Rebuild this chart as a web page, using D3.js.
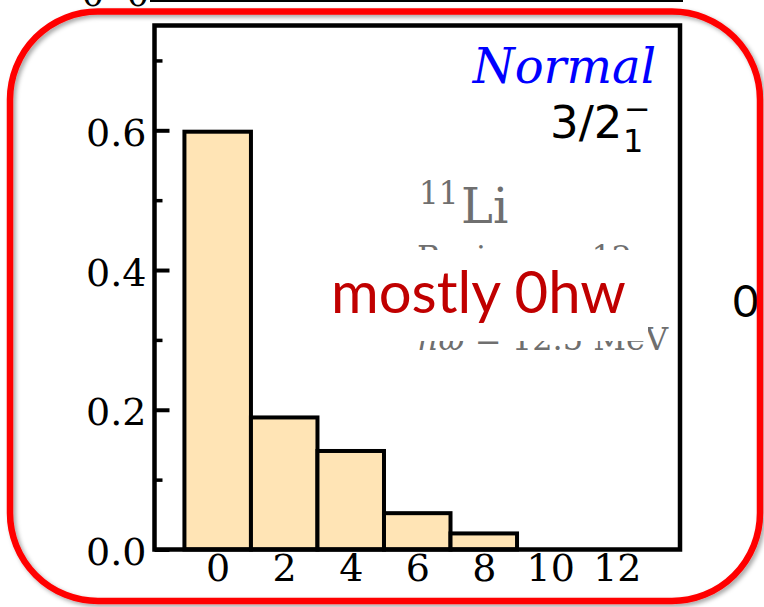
<!DOCTYPE html>
<html>
<head>
<meta charset="utf-8">
<script src="https://cdn.jsdelivr.net/npm/d3@7"></script>
<style>
  html, body { margin: 0; padding: 0; background: #fff; }
  svg { display: block; }
</style>
</head>
<body>
<svg width="764" height="607"></svg>
<script>
// values
const nhw = [0, 2, 4, 6, 8, 10, 12]
const probability = [0.598, 0.189, 0.141, 0.052, 0.023, 0, 0]
const yMajorTicks = [0, 0.2, 0.4, 0.6]
const yMinorTicks = [0.1, 0.3, 0.5, 0.7]
const xTickLabels = ['0', '2', '4', '6', '8', '10', '12']

const svg = d3.select('svg')
const serif = 'DejaVu Serif'
const grey = '#6f6f6f'

// plot box (window.top is taken, so no bare `top`)
const plotLeft = 154.5
const plotRight = 680
const plotTop = 25.5
const plotBottom = 549.5

const x = d3.scaleLinear().domain([-1.9, 13.9]).range([plotLeft, plotRight])
const y = d3.scaleLinear().domain([0, 0.75]).range([plotBottom, plotTop])

// soft shadow for the slide frame
const defs = svg.append('defs')
const shadow = defs.append('filter').attr('id', 'shadow')
  .attr('x', '-5%').attr('y', '-5%').attr('width', '110%').attr('height', '110%')
shadow.append('feDropShadow')
  .attr('dx', 2.5).attr('dy', 2.5).attr('stdDeviation', 2)
  .attr('flood-color', '#000').attr('flood-opacity', 0.35)

// bits of the neighbouring panels that stick into the crop
svg.append('line')
  .attr('x1', 150).attr('x2', 683).attr('y1', 0.5).attr('y2', 0.5)
  .attr('stroke', '#000').attr('stroke-width', 3)
svg.selectAll('text.cut')
  .data([93, 138])
  .join('text')
  .attr('class', 'cut')
  .attr('x', (d) => d)
  .attr('y', 6)
  .attr('text-anchor', 'middle')
  .attr('font-family', serif)
  .attr('font-size', 36)
  .text('0')
svg.append('text')
  .attr('x', 733).attr('y', 317)
  .attr('font-family', 'Lato')
  .attr('font-size', 44)
  .text('0')

// histogram bars, each two units wide and centred on N
svg.append('g')
  .selectAll('rect')
  .data(nhw.map((n, i) => ({ n, p: probability[i] })).filter((d) => d.p > 0))
  .join('rect')
  .attr('x', (d) => x(d.n - 1))
  .attr('width', (d) => x(d.n + 1) - x(d.n - 1))
  .attr('y', (d) => y(d.p))
  .attr('height', (d) => y(0) - y(d.p))
  .attr('fill', '#ffe4b5')
  .attr('stroke', '#000')
  .attr('stroke-width', 4)

// y axis, ticks pointing inwards
const yAxis = svg.append('g')
  .attr('transform', `translate(${plotLeft},0)`)
  .call(d3.axisLeft(y)
    .tickValues(yMajorTicks)
    .tickFormat(d3.format('.1f'))
    .tickSizeInner(-15)
    .tickSizeOuter(0)
    .tickPadding(8))
yAxis.select('.domain').remove()
yAxis.attr('font-family', serif).attr('font-size', 38)
yAxis.selectAll('line').attr('stroke-width', 4)
yAxis.selectAll('text').attr('dy', '0.4em').attr('fill', '#000')

const yMinor = svg.append('g')
  .attr('transform', `translate(${plotLeft},0)`)
  .call(d3.axisLeft(y).tickValues(yMinorTicks).tickFormat('').tickSize(-8))
yMinor.select('.domain').remove()
yMinor.selectAll('line').attr('stroke-width', 3.5)

// x axis, labels only
const xAxis = svg.append('g')
  .attr('transform', `translate(0,${plotBottom})`)
  .call(d3.axisBottom(x)
    .tickValues(nhw)
    .tickFormat((d, i) => xTickLabels[i])
    .tickSize(0)
    .tickPadding(5))
xAxis.select('.domain').remove()
xAxis.attr('font-family', serif).attr('font-size', 38)
xAxis.selectAll('text').attr('fill', '#000')

// plot frame
svg.append('rect')
  .attr('x', plotLeft).attr('y', plotTop)
  .attr('width', plotRight - plotLeft).attr('height', plotBottom - plotTop)
  .attr('fill', 'none')
  .attr('stroke', '#000')
  .attr('stroke-width', 4.5)

// annotations inside the panel
svg.append('text')
  .attr('x', 656).attr('y', 83)
  .attr('text-anchor', 'end')
  .attr('font-family', serif)
  .attr('font-style', 'italic')
  .attr('font-size', 48)
  .attr('fill', '#0000ff')
  .text('Normal')

const spin = svg.append('g').attr('font-family', 'DejaVu Sans').attr('fill', '#000')
spin.append('text').attr('x', 550).attr('y', 138).attr('font-size', 45).text('3/2')
spin.append('text').attr('x', 623).attr('y', 152).attr('font-size', 32).text('1')
spin.append('text').attr('x', 624).attr('y', 120).attr('font-size', 32).text('\u2212')

const nucleus = svg.append('g').attr('font-family', serif).attr('fill', grey)
nucleus.append('text').attr('x', 419).attr('y', 204).attr('font-size', 31).text('11')
nucleus.append('text').attr('x', 461).attr('y', 223).attr('font-size', 48).text('Li')
nucleus.append('text').attr('x', 417).attr('y', 268).attr('font-size', 32).text('Basis: n = 12')
const hw = nucleus.append('text')
  .attr('x', 668).attr('y', 350)
  .attr('text-anchor', 'end')
  .attr('font-size', 32)
hw.append('tspan').attr('font-style', 'italic').text('\u0127\u03c9')
hw.append('tspan').text(' = 12.5 MeV')

// slide text box laid over the plot
svg.append('rect')
  .attr('x', 320).attr('y', 250)
  .attr('width', 328).attr('height', 91)
  .attr('fill', '#fff')
svg.append('text')
  .attr('x', 331).attr('y', 313)
  .attr('font-family', 'Lato')
  .attr('font-size', 58)
  .attr('fill', '#c00000')
  .text('mostly 0hw')

// red rounded frame of the slide
svg.append('rect')
  .attr('x', 10).attr('y', 11.5)
  .attr('width', 750).attr('height', 589.5)
  .attr('rx', 88).attr('ry', 88)
  .attr('fill', 'none')
  .attr('stroke', '#ff0000')
  .attr('stroke-width', 6.5)
  .attr('filter', 'url(#shadow)')
</script>
</body>
</html>
